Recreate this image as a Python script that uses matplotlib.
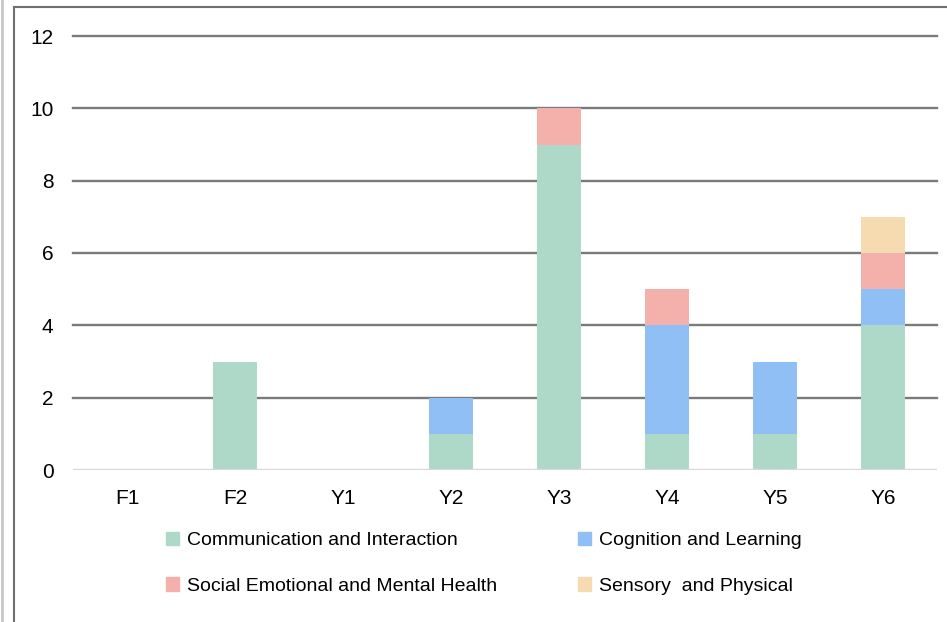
import numpy as np
import matplotlib
matplotlib.use("Agg")
from matplotlib import pyplot as plt
from matplotlib.lines import Line2D
from matplotlib.patches import Patch

plt.rcParams['font.family'] = ['Liberation Sans', 'DejaVu Sans']

years = ["F1", "F2", "Y1", "Y2", "Y3", "Y4", "Y5", "Y6"]
comm = [0, 3, 0, 1, 9, 1, 1, 4]
cog = [0, 0, 0, 1, 0, 3, 2, 1]
semh = [0, 0, 0, 0, 1, 1, 0, 1]
sensory = [0, 0, 0, 0, 0, 0, 0, 1]

series = [
    ("Communication and Interaction", comm, "#aed8c8"),
    ("Cognition and Learning", cog, "#8fbff5"),
    ("Social Emotional and Mental Health", semh, "#f4b0aa"),
    ("Sensory  and Physical", sensory, "#f6dab0"),
]

W, H = 947, 622
fig = plt.figure(figsize=(W / 100, H / 100), dpi=100)
ax = fig.add_axes([73 / W, 1 - 470 / H, 864 / W, 434 / H])

x = np.arange(len(years))
bottom = np.zeros(len(years))
for name, vals, col in series:
    ax.bar(x, vals, 0.4, bottom=bottom, color=col, label=name, zorder=3)
    bottom += np.array(vals)

ax.set_xlim(-0.5, len(years) - 0.5)
ax.set_ylim(0, 12)
ax.set_yticks(range(0, 13, 2))
ax.set_xticks(x)
ax.set_xticklabels(years)
for y in range(2, 13, 2):
    ax.axhline(y, color="#7a7a7a", lw=1.7, zorder=1, clip_on=False)
ax.axhline(0, color="#d9d9d9", lw=1.7, zorder=4)
for s in ax.spines.values():
    s.set_visible(False)
ax.tick_params(length=0, labelsize=15, colors="black")
ax.tick_params(axis="y", pad=14)
ax.tick_params(axis="x", pad=14)

# legend fills column-wise, so order gives rows: comm|cog, semh|sensory
order = [0, 2, 1, 3]
handles = [Patch(color=series[i][2], label=series[i][0]) for i in order]
fig.legend(handles=handles, ncol=2, loc="upper left",
           bbox_to_anchor=(148 / W, 1 - 514 / H), frameon=False,
           fontsize=14, handlelength=0.7, handleheight=0.7, handletextpad=0.4,
           columnspacing=4.15, labelspacing=1.45)

# outer frame of the pasted chart
fig.add_artist(Line2D([14 / W, 14 / W], [0, 1 - 7 / H], color="#707070", lw=1.5))
fig.add_artist(Line2D([14 / W, 1], [1 - 7 / H, 1 - 7 / H], color="#707070", lw=1.5))
fig.add_artist(Line2D([1.5 / W, 1.5 / W], [0, 1], color="#c8c8c8", lw=2))

fig.savefig("out.png", dpi=100)
